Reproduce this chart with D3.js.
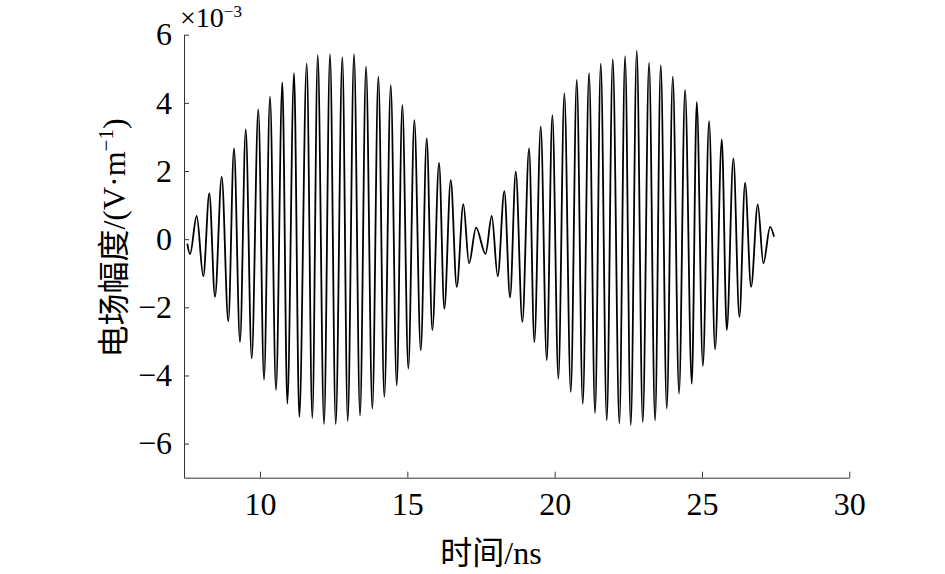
<!DOCTYPE html>
<html lang="zh">
    <head>
        <meta charset="utf-8">
        <title>电场幅度</title>
        <script type="text/javascript" src="https://d3js.org/d3.v7.min.js"></script>
        <style type="text/css">
            body{
                margin: 0;
                background-color: #ffffff;
            }
            .axis text{
                font-family: "Liberation Serif", "DejaVu Serif", serif;
                font-size: 32px;
                fill: #000;
            }
            .axis path, .axis line{
                stroke: #333;
                stroke-width: 1;
            }
        </style>
    </head>
    <body>
        <script type="text/javascript">

        //Declare consts
        const width = 945;
        const height = 574;
        const margin = {top: 34.7, right: 95.7, bottom: 96.3, left: 184};

        //DATA - peaks/troughs (time in ns, field in 1e-3 V/m)
        const time = [
            7.532, 7.624, 7.851, 8.075, 8.279, 8.472, 8.700, 8.924, 9.117, 9.321,
            9.515, 9.718, 9.942, 10.136, 10.339, 10.543, 10.757, 10.927, 11.154, 11.334,
            11.585, 11.775, 11.959, 12.172, 12.376, 12.570, 12.794, 12.977, 13.191, 13.394,
            13.598, 13.812, 14.016, 14.219, 14.437, 14.640, 14.830, 15.034, 15.238, 15.455,
            15.658, 15.849, 16.076, 16.256, 16.473, 16.677, 16.901, 17.094, 17.332, 17.654,
            17.865, 18.068, 18.292, 18.486, 18.680, 18.904, 19.131, 19.311, 19.528, 19.732,
            19.922, 20.126, 20.329, 20.547, 20.750, 20.954, 21.168, 21.371, 21.565, 21.768,
            21.972, 22.196, 22.390, 22.583, 22.787, 22.990, 23.204, 23.408, 23.601, 23.805,
            24.009, 24.222, 24.426, 24.654, 24.823, 25.031, 25.241, 25.445, 25.672, 25.842,
            26.066, 26.270, 26.463, 26.667, 26.894, 27.084, 27.312, 27.447
        ];
        const field = [
            -0.13, -0.44, 0.68, -1.09, 1.34, -1.69, 1.83, -2.41, 2.66, -3.02,
            3.22, -3.50, 3.81, -4.12, 4.18, -4.43, 4.60, -4.83, 4.87, -5.22,
            5.16, -5.25, 5.40, -5.43, 5.43, -5.43, 5.34, -5.34, 5.43, -5.18,
            5.06, -4.97, 4.77, -4.63, 4.52, -4.29, 3.94, -3.80, 3.49, -3.26,
            2.96, -2.67, 2.24, -2.04, 1.73, -1.40, 1.03, -0.71, 0.34, -0.43,
            0.68, -1.09, 1.41, -1.71, 1.98, -2.43, 2.66, -3.02, 3.30, -3.55,
            3.64, -4.09, 4.28, -4.48, 4.67, -4.83, 4.87, -5.10, 5.15, -5.32,
            5.28, -5.41, 5.37, -5.46, 5.53, -5.37, 5.18, -5.32, 5.11, -4.97,
            4.77, -4.53, 4.38, -4.24, 4.03, -3.72, 3.46, -3.23, 2.93, -2.67,
            2.37, -2.28, 1.65, -1.40, 1.02, -0.71, 0.36, 0.07
        ];
        const xTicks = [10, 15, 20, 25, 30];
        const yTicks = [-6, -4, -2, 0, 2, 4, 6];

        const data = time.map((t, i) => ({t: t, v: field[i]}));

        //SCALES
        const xScale = d3.scaleLinear()
                        .domain([7.42, 30])
                        .range([margin.left, width - margin.right]);

        const yScale = d3.scaleLinear()
                        .domain([-7, 6])
                        .range([height - margin.bottom, margin.top]);

        //SVG
        const svg = d3.select("body")
                    .append("svg")
                    .attr("width", width)
                    .attr("height", height);

        //AXES - ticks point inward, like matlab
        const minus = d => d < 0 ? "\u2212" + Math.abs(d) : d;

        svg.append("g")
            .attr("class", "axis")
            .attr("transform", "translate(0," + yScale(-7) + ")")
            .call(d3.axisBottom(xScale).tickValues(xTicks).tickSizeInner(-6).tickSizeOuter(0).tickPadding(15));

        svg.append("g")
            .attr("class", "axis")
            .attr("transform", "translate(" + xScale(7.42) + ",0)")
            .call(d3.axisLeft(yScale).tickValues(yTicks).tickFormat(minus).tickSizeInner(-5).tickSizeOuter(0).tickPadding(12));

        //exponent note
        const expo = svg.append("text")
            .attr("x", 180)
            .attr("y", 27)
            .style("font-family", "'Liberation Serif', serif")
            .style("font-size", "28px");
        expo.append("tspan").text("\u00d710");
        expo.append("tspan").attr("dy", -10).style("font-size", "17px").text("\u22123");

        //LINE
        const line = d3.line()
                    .x(d => xScale(d.t))
                    .y(d => yScale(d.v))
                    .curve(d3.curveMonotoneX);

        svg.append("path")
            .datum(data)
            .attr("fill", "none")
            .attr("stroke", "#000")
            .attr("stroke-width", 1.8)
            .attr("d", line);

        //AXIS LABELS
        svg.append("text")
            .attr("x", 491)
            .attr("y", 564)
            .attr("text-anchor", "middle")
            .style("font-family", "'Liberation Serif', 'Noto Sans CJK SC', serif")
            .style("font-size", "32px")
            .text("时间/ns");

        const ylab = svg.append("text")
            .attr("transform", "translate(125,238) rotate(-90)")
            .attr("text-anchor", "middle")
            .style("font-family", "'Liberation Serif', 'Noto Sans CJK SC', serif")
            .style("font-size", "32px");
        ylab.append("tspan").text("电场幅度/(V·m");
        ylab.append("tspan").attr("dy", -12).style("font-size", "21px").text("\u22121");
        ylab.append("tspan").attr("dy", 12).text(")");

        </script>
    </body>
</html>
